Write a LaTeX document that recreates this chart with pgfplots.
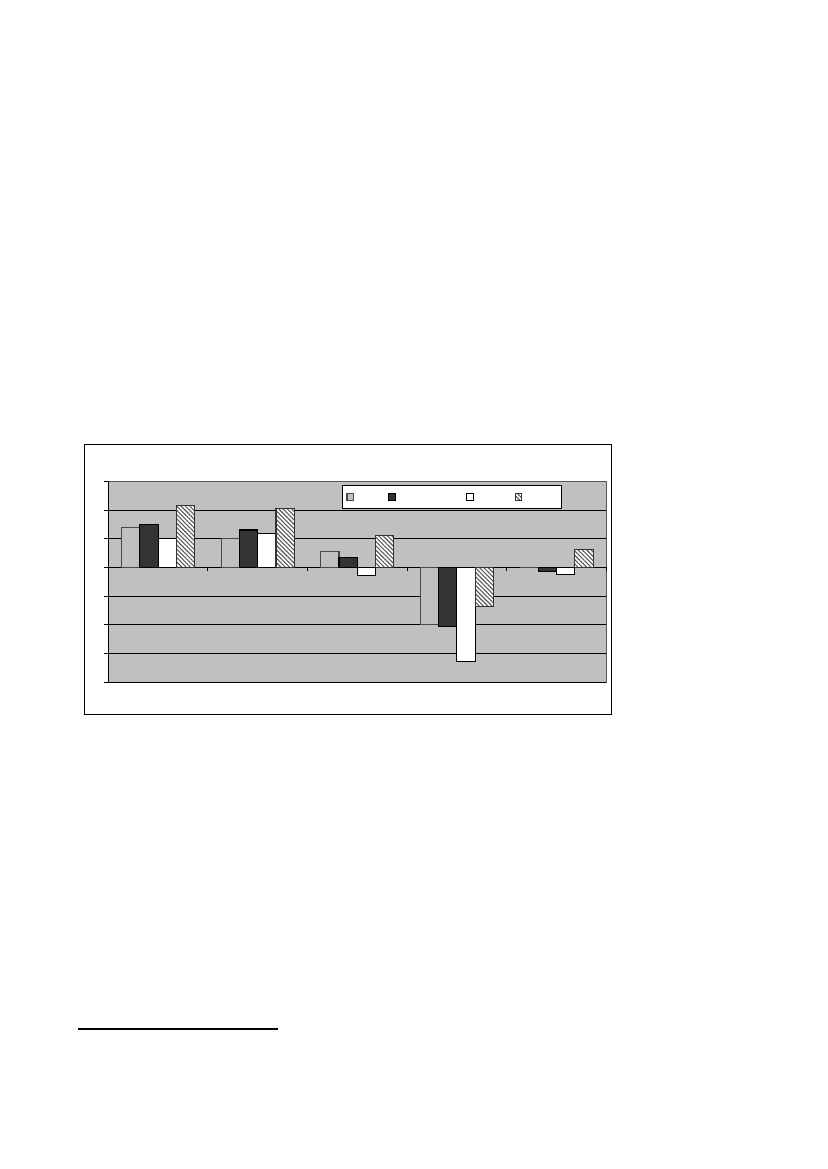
\documentclass[border=0pt]{standalone}
\usepackage{pgfplots}
\pgfplotsset{compat=1.18}
\usetikzlibrary{patterns.meta}
\definecolor{plotgray}{RGB}{192,192,192}
\definecolor{darkbar}{RGB}{51,51,51}
\newlength\px
\setlength\px{0.7225pt}
\pgfplotsset{sqlegend/.style={legend image code/.code={%
  \draw[##1] (0pt,-3.35\px) rectangle (6.7\px,3.35\px);}}}

\begin{document}
\begin{tikzpicture}
  \path[use as bounding box] (0pt,0pt) rectangle (827\px,1169\px);
  % chart frame and footnote rule
  \draw[line width=1.1\px] (84.3\px,454.7\px) rectangle (611.3\px,724.3\px);
  \draw[line width=1.1\px] (78\px,140\px) -- (278\px,140\px);
  \begin{axis}[
      at={(108.3\px,487\px)}, anchor=south west,
      scale only axis, width=498\px, height=200.7\px,
      xmin=-0.5, xmax=4.5, ymin=-4, ymax=3,
      axis background/.style={fill=plotgray, draw=gray!70!black, line width=0.9\px},
      ybar=0pt, bar width=0.1837,
      axis x line*=middle, axis y line*=left,
      axis line style={line width=1\px},
      ytick={-4,...,2}, yticklabels={},
      extra y ticks={3}, extra y tick labels={},
      extra y tick style={grid=none},
      xtick={0.5,1.5,2.5,3.5,4.5}, xticklabels={},
      tick align=outside, major tick length=4\px,
      every tick/.style={black, line width=0.9\px},
      ymajorgrids, grid style={black, line width=0.9\px},
      legend columns=-1,
      legend style={at={(0.4687,0.983)}, anchor=north west, draw=black,
        fill=white, line width=0.9\px, inner xsep=4.3\px, inner ysep=7.9\px,
        column sep=0pt, nodes={inner sep=0pt}},
    ]
    \addplot[sqlegend, fill=plotgray, draw=black!72, line width=1.2\px]
      coordinates {(0,1.40) (1,1.00) (2,0.55) (3,-1.99) (4,0)};
    \addplot[sqlegend, fill=darkbar, draw=black, line width=1.1\px]
      coordinates {(0,1.49) (1,1.30) (2,0.35) (3,-2.05) (4,-0.15)};
    \addplot[sqlegend, fill=white, draw=black, line width=1.1\px]
      coordinates {(0,0.99) (1,1.17) (2,-0.29) (3,-3.28) (4,-0.25)};
    \addplot[sqlegend, fill=white, draw=black!80, line width=1.1\px,
      postaction={pattern={Lines[angle=-45, distance=2.2pt, line width=0.8pt]},
        pattern color=gray!70!black}]
      coordinates {(0,2.16) (1,2.04) (2,1.10) (3,-1.36) (4,0.62)};
    \legend{\hspace*{33.6\px}, \hspace*{70.3\px}, \hspace*{40.7\px}, \hspace*{34.6\px}}
  \end{axis}
\end{tikzpicture}
\end{document}
